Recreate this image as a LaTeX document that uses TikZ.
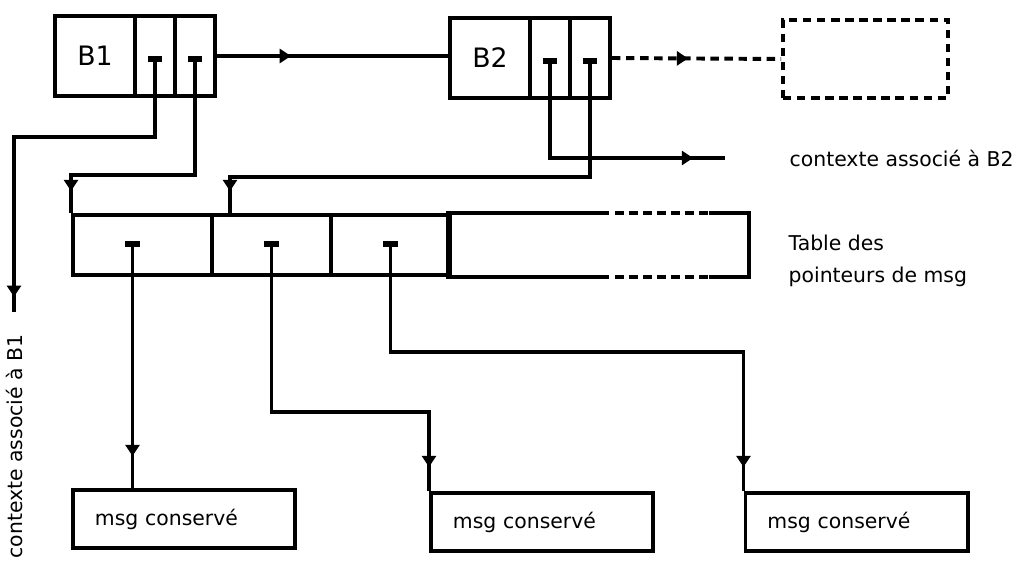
\documentclass[tikz,border=0pt]{standalone}
\usepackage{fontspec}
\setmainfont{DejaVu Sans}
\usetikzlibrary{arrows.meta,decorations.markings,calc,positioning}

\begin{document}
\begin{tikzpicture}[
        x=0.025cm, y=-0.025cm,
        line width=2.8pt,
        every node/.style={font=\fontsize{14.5}{23}\selectfont},
        cell/.style={draw, inner sep=0pt, minimum height=2cm},
        tabcell/.style={draw, inner sep=0pt, minimum height=1.5cm},
        msgbox/.style={draw, text width=4.45cm, inner xsep=0.55cm, minimum height=1.45cm, align=left},
        ptr/.style={{Bar[width=10pt,line width=4pt]}-},
        midarrow/.style={postaction={decorate}, decoration={markings, mark=at position #1 with {\arrow{Triangle[width=10pt,length=8pt]}}}},
        nodash/.style={dash pattern=on 6pt off 4pt}
    ]

        \useasboundingbox (0,0) rectangle (1031,566);

        % bloc B1
        \node[cell, minimum width=2cm, font=\fontsize{19}{22}\selectfont] (b1) at (95,56) {B1};
        \node[cell, minimum width=1cm] (b1p) at (155,56) {};
        \node[cell, minimum width=1cm] (b1q) at (195,56) {};

        % bloc B2
        \node[cell, minimum width=2cm, font=\fontsize{19}{22}\selectfont] (b2) at (490,58) {B2};
        \node[cell, minimum width=1cm] (b2p) at (550,58) {};
        \node[cell, minimum width=1cm] (b2q) at (590,58) {};

        % bloc suivant
        \node[draw, nodash, minimum width=4.125cm, minimum height=1.95cm] (b3) at (865.5,59) {};

        % table des pointeurs
        \node[tabcell, minimum width=3.475cm] (t1) at (142.5,245) {};
        \node[tabcell, minimum width=2.975cm] (t2) at (271.5,245) {};
        \node[tabcell, minimum width=2.975cm] (t3) at (390.5,245) {};
        \node[inner sep=0pt, minimum width=7.425cm, minimum height=1.5cm] (t4) at (598.5,245) {};
        \draw ($(t4.north west)+(153,0)$) -- (t4.north west) -- (t4.south west) -- ($(t4.south west)+(153,0)$);
        \draw[nodash] ($(t4.north west)+(153,0)$) -- ($(t4.north east)+(-40,0)$);
        \draw[nodash] ($(t4.south west)+(153,0)$) -- ($(t4.south east)+(-40,0)$);
        \draw ($(t4.north east)+(-40,0)$) -- (t4.north east) -- (t4.south east) -- ($(t4.south east)+(-40,0)$);
        \node[anchor=west, align=left] (tablbl) at ($(t4.east)+(33,16)$) {Table des\\pointeurs de msg};

        % messages
        \node[msgbox] (m1) at (184,519) {msg conservé};
        \node[msgbox] (m2) at (542,522) {msg conservé};
        \node[msgbox] (m3) at (856.5,522) {msg conservé};

        % contextes
        \coordinate (ctxb1) at (14,312);
        \coordinate (ctxb2) at (725,158);
        \node[anchor=east, rotate=90] (ctxb1lbl) at ($(ctxb1)+(0,16)$) {contexte associé à B1};
        \node[right=1.45cm of ctxb2] (ctxb2lbl) {contexte associé à B2};

        % pointeurs
        \draw[ptr, midarrow=-0.38cm] (b1p.center) -- ++(0,81) -| (ctxb1);
        \draw[ptr, midarrow=-0.55cm] (b1q.center) -- ++(0,119) -| (t1.north west);
        \draw[midarrow=0.32] (b1q.east) -- (b1q.east -| b2.west);
        \draw[ptr, midarrow=-0.8cm] (b2p.center) |- (ctxb2);
        \draw[ptr, midarrow=-0.55cm] (b2q.center) -- ++(0,119) -| ($(t2.north west)+(20,0)$);
        \draw[nodash, midarrow=0.45] (b2q.east) -- (b3.west);

        \coordinate (t1p) at ($(t1.center)+(-10,-4)$);
        \coordinate (t2p) at ($(t2.center)+(0,-4)$);
        \coordinate (t3p) at ($(t3.center)+(0,-4)$);
        \draw[ptr, midarrow=-0.8cm] (t1p) -- (t1p |- m1.north);
        \draw[ptr, midarrow=-0.6cm] (t2p) -- ++(0,171) -| (m2.north west);
        \draw[ptr, midarrow=-0.6cm] (t3p) -- ++(0,111) -| (m3.north west);

    \end{tikzpicture}
\end{document}
